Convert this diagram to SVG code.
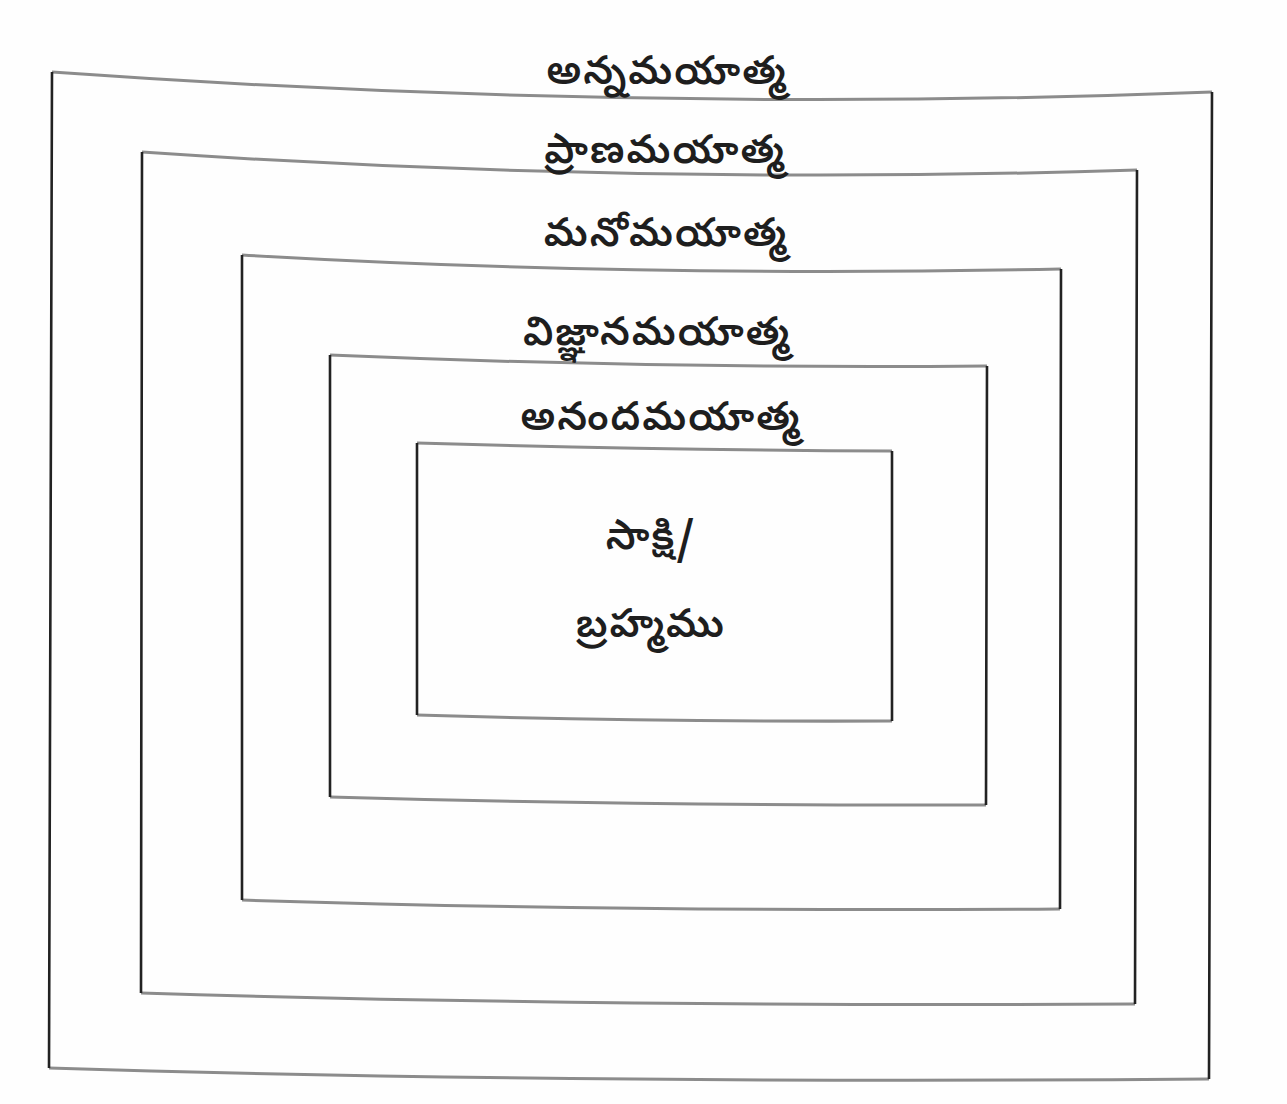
<svg xmlns="http://www.w3.org/2000/svg" width="1287" height="1104" viewBox="0 0 1287 1104">
<style>
.v{fill:none;stroke:#222;stroke-width:2.6}
.h{fill:none;stroke:#8c8c8c;stroke-width:3}
.t{font-family:"Noto Sans Telugu","Noto Sans","DejaVu Sans",sans-serif;font-size:40px;font-weight:600;letter-spacing:2px;fill:#1e1e1e;text-anchor:middle}
</style>
<rect width="1287" height="1104" fill="#fefefe"/>
<g id="annamaya">
<path class="h" d="M52,72 Q640,114 1212,92"/>
<path class="h" d="M49,1068 Q560,1084 1209,1079"/>
<path class="v" d="M52,72 L49,1068 M1212,92 L1209,1079"/>
<text class="t" x="667" y="84">అన్నమయాత్మ</text>
</g>
<g id="pranamaya">
<path class="h" d="M142,152 Q640,186 1137,170"/>
<path class="h" d="M141,993 Q600,1007 1135,1004"/>
<path class="v" d="M142,152 L141,993 M1137,170 L1135,1004"/>
<text class="t" x="665" y="163">ప్రాణమయాత్మ</text>
</g>
<g id="manomaya">
<path class="h" d="M242,255 Q640,278 1061,269"/>
<path class="h" d="M242,900 Q620,912 1060,909"/>
<path class="v" d="M242,255 L242,900 M1061,269 L1060,909"/>
<text class="t" x="666" y="246">మనోమయాత్మ</text>
</g>
<g id="vijnanamaya">
<path class="h" d="M330,355 Q660,369 987,366"/>
<path class="h" d="M330,797 Q640,806 986,805"/>
<path class="v" d="M330,355 L330,797 M987,366 L986,805"/>
<text class="t" x="657" y="345">విజ్ఞానమయాత్మ</text>
</g>
<g id="anandamaya">
<path class="h" d="M417,443 Q660,450 892,451"/>
<path class="h" d="M417,715 Q640,722 892,721"/>
<path class="v" d="M417,443 L417,715 M892,451 L892,721"/>
<text class="t" x="661" y="430">అనందమయాత్మ</text>
</g>
<g id="sakshi">
<text class="t" x="651" y="549">సాక్షి/</text>
<text class="t" x="651" y="637">బ్రహ్మము</text>
</g>
<g id="connectors"></g>
</svg>
